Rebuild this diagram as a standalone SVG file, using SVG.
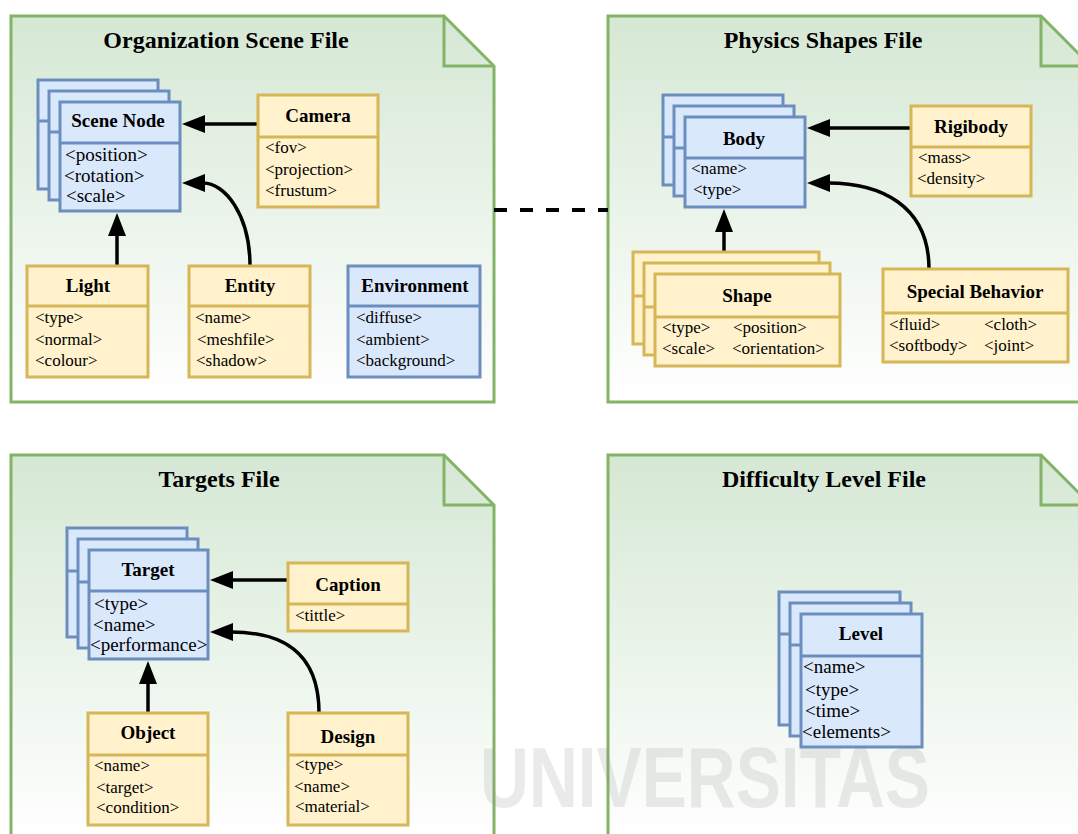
<svg xmlns="http://www.w3.org/2000/svg" width="1078" height="834" viewBox="0 0 1078 834">
<defs>
<linearGradient id="pg" x1="0" y1="0" x2="0" y2="1">
<stop offset="0" stop-color="#d5e8d4"/>
<stop offset="1" stop-color="#ffffff"/>
</linearGradient>
<marker id="ah" markerUnits="userSpaceOnUse" markerWidth="24" markerHeight="20" refX="2" refY="9" orient="auto">
<path d="M0,0 L23,9 L0,18 Z" fill="#000"/>
</marker>
<style>
.panel{fill:url(#pg);stroke:#82b366;stroke-width:3}
.fold{fill:none;stroke:#82b366;stroke-width:3}
.ptitle{font-family:"Liberation Serif",serif;font-weight:bold;font-size:24px;text-anchor:middle;fill:#000}
.b{fill:#dae8fc;stroke:#6c8ebf;stroke-width:3}
.bl{stroke:#6c8ebf;stroke-width:3}
.y{fill:#fff2cc;stroke:#d6b656;stroke-width:3}
.yl{stroke:#d6b656;stroke-width:3}
.t{font-family:"Liberation Serif",serif;font-weight:bold;font-size:19px;text-anchor:middle;fill:#000}
.a{font-family:"Liberation Serif",serif;font-size:17px;fill:#000}
.a19{font-family:"Liberation Serif",serif;font-size:19px;fill:#000}
.c{fill:none;stroke:#000;stroke-width:3.5;marker-end:url(#ah)}
.d{fill:none;stroke:#000;stroke-width:4;stroke-dasharray:13 13}
.wm{font-family:"Liberation Sans",sans-serif;font-weight:bold;font-size:86px;fill:#9a9a9a;opacity:0.2}
</style>
</defs>

<g id="panel-org">
<path class="panel" d="M11,16 L444,16 L494,66 L494,402 L11,402 Z"/>
<path class="fold" d="M444,16 L444,66 L494,66"/>
<text class="ptitle" x="226" y="48">Organization Scene File</text>
</g>
<g id="panel-physics">
<path class="panel" d="M608,16 L1041,16 L1091,66 L1091,402 L608,402 Z"/>
<path class="fold" d="M1041,16 L1041,66 L1091,66"/>
<text class="ptitle" x="823" y="48">Physics Shapes File</text>
</g>
<g id="panel-targets">
<path class="panel" d="M11,455 L444,455 L494,505 L494,841 L11,841 Z"/>
<path class="fold" d="M444,455 L444,505 L494,505"/>
<text class="ptitle" x="219" y="487">Targets File</text>
</g>
<g id="panel-difficulty">
<path class="panel" d="M608,455 L1041,455 L1091,505 L1091,841 L608,841 Z"/>
<path class="fold" d="M1041,455 L1041,505 L1091,505"/>
<text class="ptitle" x="824" y="487">Difficulty Level File</text>
</g>

<text class="wm" x="480" y="807" textLength="450" lengthAdjust="spacingAndGlyphs">UNIVERSITAS</text>

<g id="connectors">
<path class="d" d="M494,210 L608,210"/>
<path class="c" d="M258,124 L203,124"/>
<path class="c" d="M117,266 L117,234"/>
<path class="c" d="M250,266 C250,215 225,183 203,183"/>
<path class="c" d="M911,128 L828,128"/>
<path class="c" d="M724,252 L724,230"/>
<path class="c" d="M929,269 C929,205 880,183 828,183"/>
<path class="c" d="M288,580 L231,580"/>
<path class="c" d="M148,713 L148,682"/>
<path class="c" d="M319,713 C319,650 280,632 231,632"/>
</g>

<g id="scene-node">
<rect class="b" x="38" y="80" width="120" height="109"/><line class="bl" x1="38" y1="121" x2="158" y2="121"/>
<rect class="b" x="49" y="91" width="120" height="109"/><line class="bl" x1="49" y1="132" x2="169" y2="132"/>
<rect class="b" x="60" y="102" width="120" height="109"/><line class="bl" x1="60" y1="143" x2="180" y2="143"/>
<text class="t" x="118" y="127">Scene Node</text>
<text class="a19" x="65" y="161">&lt;position&gt;</text>
<text class="a19" x="64" y="182">&lt;rotation&gt;</text>
<text class="a19" x="66" y="202">&lt;scale&gt;</text>
</g>
<g id="camera">
<rect class="y" x="258" y="95" width="120" height="112"/><line class="yl" x1="258" y1="137" x2="378" y2="137"/>
<text class="t" x="318" y="122">Camera</text>
<text class="a" x="265" y="153">&lt;fov&gt;</text>
<text class="a" x="265" y="175">&lt;projection&gt;</text>
<text class="a" x="265" y="196">&lt;frustum&gt;</text>
</g>
<g id="light">
<rect class="y" x="27" y="266" width="121" height="111"/><line class="yl" x1="27" y1="306" x2="148" y2="306"/>
<text class="t" x="88" y="292">Light</text>
<text class="a" x="35" y="323">&lt;type&gt;</text>
<text class="a" x="35" y="345">&lt;normal&gt;</text>
<text class="a" x="35" y="366">&lt;colour&gt;</text>
</g>
<g id="entity">
<rect class="y" x="189" y="266" width="121" height="111"/><line class="yl" x1="189" y1="306" x2="310" y2="306"/>
<text class="t" x="250" y="292">Entity</text>
<text class="a" x="195" y="323">&lt;name&gt;</text>
<text class="a" x="197" y="345">&lt;meshfile&gt;</text>
<text class="a" x="196" y="366">&lt;shadow&gt;</text>
</g>
<g id="environment">
<rect class="b" x="348" y="266" width="132" height="111"/><line class="bl" x1="348" y1="306" x2="480" y2="306"/>
<text class="t" x="415" y="292">Environment</text>
<text class="a" x="356" y="323">&lt;diffuse&gt;</text>
<text class="a" x="356" y="345">&lt;ambient&gt;</text>
<text class="a" x="356" y="366">&lt;background&gt;</text>
</g>

<g id="body">
<rect class="b" x="663" y="95" width="120" height="90"/><line class="bl" x1="663" y1="137" x2="783" y2="137"/>
<rect class="b" x="674" y="106" width="120" height="90"/><line class="bl" x1="674" y1="148" x2="794" y2="148"/>
<rect class="b" x="685" y="117" width="120" height="90"/><line class="bl" x1="685" y1="158" x2="805" y2="158"/>
<text class="t" x="744" y="145">Body</text>
<text class="a" x="691" y="174">&lt;name&gt;</text>
<text class="a" x="693" y="195">&lt;type&gt;</text>
</g>
<g id="rigibody">
<rect class="y" x="911" y="106" width="120" height="90"/><line class="yl" x1="911" y1="147" x2="1031" y2="147"/>
<text class="t" x="971" y="133">Rigibody</text>
<text class="a" x="918" y="163">&lt;mass&gt;</text>
<text class="a" x="917" y="184">&lt;density&gt;</text>
</g>
<g id="shape">
<rect class="y" x="633" y="252" width="186" height="92"/><line class="yl" x1="633" y1="296" x2="819" y2="296"/>
<rect class="y" x="644" y="263" width="186" height="92"/><line class="yl" x1="644" y1="307" x2="830" y2="307"/>
<rect class="y" x="655" y="274" width="185" height="92"/><line class="yl" x1="655" y1="317" x2="840" y2="317"/>
<text class="t" x="747" y="302">Shape</text>
<text class="a" x="662" y="333">&lt;type&gt;</text>
<text class="a" x="733" y="333">&lt;position&gt;</text>
<text class="a" x="662" y="354">&lt;scale&gt;</text>
<text class="a" x="732" y="354">&lt;orientation&gt;</text>
</g>
<g id="special-behavior">
<rect class="y" x="883" y="269" width="185" height="93"/><line class="yl" x1="883" y1="313" x2="1068" y2="313"/>
<text class="t" x="975" y="298">Special Behavior</text>
<text class="a" x="889" y="330">&lt;fluid&gt;</text>
<text class="a" x="984" y="330">&lt;cloth&gt;</text>
<text class="a" x="889" y="351">&lt;softbody&gt;</text>
<text class="a" x="984" y="351">&lt;joint&gt;</text>
</g>

<g id="target">
<rect class="b" x="67" y="528" width="120" height="109"/><line class="bl" x1="67" y1="571" x2="187" y2="571"/>
<rect class="b" x="78" y="539" width="120" height="109"/><line class="bl" x1="78" y1="582" x2="198" y2="582"/>
<rect class="b" x="89" y="550" width="119" height="109"/><line class="bl" x1="89" y1="591" x2="208" y2="591"/>
<text class="t" x="148" y="576">Target</text>
<text class="a19" x="94" y="610">&lt;type&gt;</text>
<text class="a19" x="93" y="631">&lt;name&gt;</text>
<text class="a19" x="90" y="651">&lt;performance&gt;</text>
</g>
<g id="caption">
<rect class="y" x="288" y="563" width="120" height="68"/><line class="yl" x1="288" y1="604" x2="408" y2="604"/>
<text class="t" x="348" y="591">Caption</text>
<text class="a" x="295" y="621">&lt;tittle&gt;</text>
</g>
<g id="object">
<rect class="y" x="88" y="713" width="120" height="112"/><line class="yl" x1="88" y1="755" x2="208" y2="755"/>
<text class="t" x="148" y="739">Object</text>
<text class="a" x="94" y="771">&lt;name&gt;</text>
<text class="a" x="96" y="793">&lt;target&gt;</text>
<text class="a" x="96" y="813">&lt;condition&gt;</text>
</g>
<g id="design">
<rect class="y" x="288" y="713" width="120" height="112"/><line class="yl" x1="288" y1="755" x2="408" y2="755"/>
<text class="t" x="348" y="743">Design</text>
<text class="a" x="295" y="770">&lt;type&gt;</text>
<text class="a" x="294" y="792">&lt;name&gt;</text>
<text class="a" x="295" y="812">&lt;material&gt;</text>
</g>

<g id="level">
<rect class="b" x="779" y="592" width="121" height="133"/><line class="bl" x1="779" y1="634" x2="900" y2="634"/>
<rect class="b" x="790" y="603" width="121" height="133"/><line class="bl" x1="790" y1="645" x2="911" y2="645"/>
<rect class="b" x="801" y="614" width="121" height="133"/><line class="bl" x1="801" y1="656" x2="922" y2="656"/>
<text class="t" x="861" y="640">Level</text>
<text class="a19" x="803" y="673">&lt;name&gt;</text>
<text class="a19" x="805" y="696">&lt;type&gt;</text>
<text class="a19" x="805" y="717">&lt;time&gt;</text>
<text class="a19" x="802" y="738">&lt;elements&gt;</text>
</g>
</svg>
